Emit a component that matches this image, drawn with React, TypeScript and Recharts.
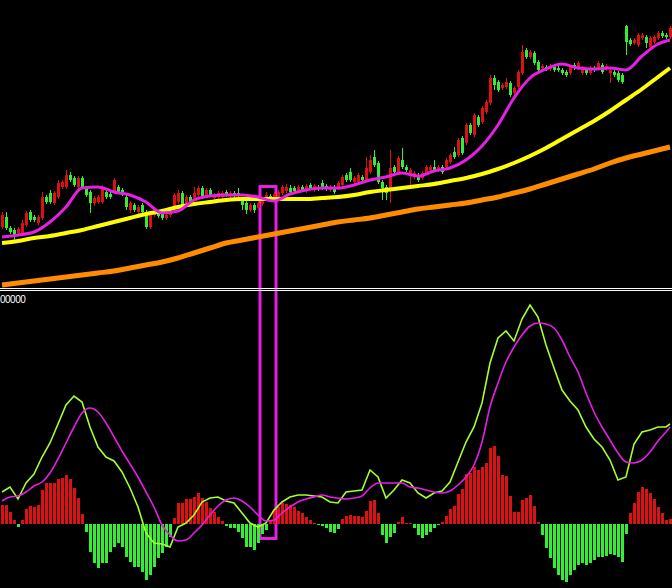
import React from 'react';
import { ComposedChart, Bar, Line, XAxis, YAxis, ReferenceLine, ReferenceArea } from 'recharts';

const W = 672;
const H = 588;

// candles, oldest first (168 bars)
const open = [
  61, 71, 60, 58, 55, 55, 63, 76, 71, 65,
  70, 91, 95, 85, 91, 101, 101, 113, 110, 101,
  110, 100, 96, 85, 86, 86, 96, 94, 96, 101,
  98, 91, 78, 83, 76, 83, 76, 61, 73, 75,
  75, 70, 73, 81, 86, 95, 85, 91, 90, 93,
  100, 93, 98, 90, 91, 91, 96, 92, 95, 95,
  88, 85, 78, 83, 80, 84, 88, 92, 90, 91,
  95, 97, 100, 100, 97, 101, 97, 103, 98, 101,
  105, 102, 98, 100, 100, 103, 113, 116, 106, 106,
  111, 108, 116, 131, 125, 106, 101, 100, 121, 116,
  128, 121, 113, 111, 113, 110, 115, 118, 121, 118,
  121, 121, 126, 136, 133, 150, 145, 163, 153, 171,
  166, 176, 185, 210, 206, 200, 201, 205, 195, 201,
  215, 238, 231, 235, 226, 220, 221, 219, 221, 220,
  218, 216, 215, 223, 220, 215, 218, 215, 220, 220,
  223, 219, 215, 216, 215, 213, 262, 248, 245, 243,
  250, 251, 241, 246, 250, 255, 253, 251,
];
const high = [
  76, 76, 62, 60, 61, 68, 77, 78, 73, 73,
  96, 93, 98, 97, 108, 108, 118, 116, 112, 112,
  112, 102, 98, 92, 93, 103, 100, 96, 110, 103,
  100, 93, 87, 85, 83, 85, 78, 77, 77, 77,
  77, 75, 79, 95, 98, 97, 93, 93, 101, 102,
  102, 100, 100, 95, 97, 97, 98, 97, 97, 100,
  90, 87, 85, 85, 87, 90, 96, 94, 96, 98,
  103, 104, 103, 102, 103, 103, 104, 105, 104, 103,
  108, 104, 103, 103, 107, 113, 115, 120, 112, 115,
  113, 131, 133, 138, 127, 108, 103, 138, 123, 132,
  140, 123, 120, 117, 115, 117, 123, 123, 128, 123,
  123, 130, 135, 141, 150, 152, 165, 165, 175, 173,
  182, 188, 213, 213, 208, 205, 210, 207, 202, 218,
  243, 240, 238, 237, 228, 224, 223, 224, 223, 222,
  220, 218, 223, 225, 227, 222, 220, 222, 222, 227,
  225, 224, 220, 218, 217, 215, 263, 250, 250, 255,
  255, 253, 252, 253, 257, 257, 255, 262,
];
const low = [
  59, 58, 54, 48, 52, 53, 61, 66, 66, 63,
  68, 84, 84, 83, 89, 99, 99, 106, 101, 99,
  99, 91, 75, 82, 84, 84, 89, 89, 94, 94,
  92, 78, 75, 76, 74, 74, 59, 59, 71, 70,
  68, 68, 71, 79, 84, 81, 83, 84, 88, 91,
  89, 91, 91, 88, 89, 89, 91, 90, 90, 90,
  78, 74, 76, 75, 78, 82, 86, 87, 88, 89,
  93, 95, 94, 95, 95, 96, 95, 98, 96, 97,
  98, 97, 96, 94, 98, 101, 106, 106, 104, 104,
  106, 106, 114, 121, 104, 88, 88, 85, 114, 114,
  119, 116, 103, 109, 106, 108, 113, 116, 116, 116,
  114, 119, 124, 129, 131, 133, 143, 153, 151, 161,
  164, 174, 183, 198, 196, 198, 199, 191, 193, 199,
  213, 229, 229, 223, 216, 218, 217, 217, 216, 216,
  213, 211, 213, 218, 218, 213, 213, 213, 216, 218,
  214, 217, 205, 211, 206, 204, 233, 242, 243, 241,
  248, 240, 239, 244, 248, 250, 249, 249,
];
const close = [
  73, 60, 56, 53, 59, 65, 75, 68, 68, 71,
  91, 86, 86, 95, 105, 106, 113, 108, 103, 110,
  101, 93, 85, 90, 91, 100, 91, 91, 108, 96,
  95, 81, 85, 78, 81, 76, 61, 75, 75, 72,
  70, 73, 77, 93, 95, 83, 91, 86, 95, 100,
  91, 98, 93, 93, 95, 95, 93, 95, 92, 92,
  83, 78, 83, 78, 85, 88, 93, 89, 94, 96,
  101, 101, 96, 97, 101, 98, 102, 100, 102, 99,
  100, 99, 101, 96, 105, 111, 108, 108, 110, 113,
  108, 120, 128, 123, 106, 100, 95, 120, 116, 130,
  121, 118, 118, 115, 108, 115, 121, 121, 118, 121,
  116, 128, 133, 131, 148, 135, 163, 155, 173, 163,
  180, 186, 210, 203, 198, 203, 206, 193, 200, 216,
  236, 231, 236, 225, 218, 222, 219, 222, 218, 218,
  215, 213, 221, 220, 225, 220, 215, 220, 218, 225,
  216, 222, 218, 213, 208, 206, 246, 244, 248, 253,
  253, 245, 250, 251, 255, 252, 251, 260,
];

// moving averages, read every 4th bar (the last one is bar 167)
const maFast = [
  51, 53, 56, 66, 81, 100, 101, 96, 93, 86, 75, 77, 88, 92, 93, 93, 91, 87, 94, 98, 100, 100,
  103, 108, 111, 115, 112, 117, 120, 128, 142, 163, 190, 210, 219, 224, 220, 219, 220, 218, 232, 244, 248,
];
const maMid = [
  45, 47, 50, 52, 55, 58, 62, 66, 70, 74, 77, 81, 84, 86, 88, 89, 89, 89, 89, 89, 90, 91,
  93, 96, 98, 100, 102, 104, 107, 110, 114, 119, 125, 132, 140, 149, 158, 167, 177, 188, 199, 211, 220,
];
const maSlow = [
  3, 5, 7, 9, 11, 13, 15, 17, 20, 23, 26, 30, 35, 40, 45, 48, 51, 54, 57, 60, 63, 66,
  68, 70, 73, 76, 79, 81, 83, 85, 88, 91, 95, 99, 104, 109, 114, 119, 125, 130, 134, 138, 141,
];

// MACD histogram, one value per bar
const macdHist = [
  19, 19, 12, 4, -3, 4, 15, 18, 17, 19, 34, 41, 41, 41, 45, 46, 49, 45, 36, 26,
  10, -8, -28, -39, -44, -39, -39, -28, -23, -19, -23, -33, -38, -43, -43, -48, -56, -51, -43, -34,
  -29, -23, -13, 6, 21, 21, 25, 25, 27, 31, 26, 22, 16, 12, 7, 3,
  -2, -4, -4, -8, -14, -23, -23, -26, -19, -10, -6, 3, 14, 17, 21, 20, 19, 17, 13, 11,
  7, 4, 1, -1, -2, -4, -8, -9, -5, 5, 8, 9, 8, 8, 7, 13, 23, 24, 11, -11,
  -19, -13, -9, 2, 7, 1, 1, -4, -11, -14, -11, -8, -4, -1, 2, 8,
  15, 18, 30, 35, 50, 51, 57, 54, 57, 61, 76, 78, 68, 49, 48, 28, 12, 12, 24, 26,
  29, 18, 2, -11, -24, -34, -44, -51, -56, -58, -51, -46, -41, -39, -41, -39, -36, -33, -33, -32,
  -30, -31, -33, -38, -10, 11, 21, 32, 37, 35, 31, 25, 17, 11, 4, 5,
];

// MACD main and signal lines, read every 2nd bar (the last one is bar 167)
const macdMain = [
  32, 37, 25, 41, 50, 67, 81, 100, 119, 128, 122, 97, 77, 67, 63, 52, 36, 17, -9, -19, -20, -23, -3, 1, 9, 22, 26, 27,
  23, 21, 11, 1, -3, 1, 14, 22, 27, 29, 29, 28, 27, 22, 21, 32, 33, 34, 54, 47, 26, 34, 44, 41, 31, 26, 31, 33,
  42, 62, 82, 97, 121, 161, 186, 193, 183, 205, 219, 207, 179, 156, 134, 123, 114, 97, 85, 77, 64, 44, 47, 80, 92, 94, 97, 97,
  100,
];
const macdSignal = [
  23, 27, 28, 32, 38, 42, 51, 65, 81, 97, 111, 116, 112, 101, 87, 73, 60, 47, 32, 17, -1, -11, -17, -16, -9, -1, 9, 18,
  24, 26, 23, 17, 9, 3, 4, 11, 17, 22, 25, 27, 29, 27, 26, 25, 26, 28, 36, 41, 41, 41, 41, 37, 36, 34, 32, 31,
  33, 39, 47, 59, 82, 117, 141, 162, 177, 189, 198, 201, 200, 196, 184, 167, 152, 131, 112, 97, 84, 71, 62, 61, 64, 72, 83, 92,
  97,
];

const maBars = maFast.map((_, k) => Math.min(k * 4, 167));
const lineBars = macdMain.map((_, k) => Math.min(k * 2, 167));

const data: any[] = open.map((o, i) => ({
  i,
  o,
  h: high[i],
  l: low[i],
  c: close[i],
  range: [low[i], high[i]],
  hist: macdHist[i],
  fast: null,
  mid: null,
  slow: null,
  main: null,
  sig: null,
}));
maBars.forEach((b, k) => {
  data[b].fast = maFast[k];
  data[b].mid = maMid[k];
  data[b].slow = maSlow[k];
});
lineBars.forEach((b, k) => {
  data[b].main = macdMain[k];
  data[b].sig = macdSignal[k];
});

const UP = '#dd1111';
const DOWN = '#33ee33';
const PINK = '#e61ee6';

const Candle = (props: any) => {
  const { x, y, height, payload } = props;
  if (payload == null || x == null) return null;
  const top = Math.min(y, y + height);
  const bot = Math.max(y, y + height);
  const span = payload.h - payload.l || 1;
  const py = (v: number) => top + ((payload.h - v) / span) * (bot - top);
  const color = payload.c >= payload.o ? UP : DOWN;
  const b1 = Math.round(py(Math.max(payload.o, payload.c)));
  const b2 = Math.round(py(Math.min(payload.o, payload.c)));
  const left = Math.floor(x);
  return (
    <g>
      <line x1={left + 2.5} x2={left + 2.5} y1={Math.round(top)} y2={Math.round(bot)} stroke={color} strokeWidth={1} />
      <rect x={left + 1} y={b1} width={3} height={Math.max(1, b2 - b1)} fill={color} />
    </g>
  );
};

const HistBar = (props: any) => {
  const { x, y, height, payload } = props;
  if (payload == null || x == null) return null;
  const top = Math.round(Math.min(y, y + height));
  const h = Math.round(Math.abs(height));
  return <rect x={Math.floor(x) + 1} y={top} width={3} height={Math.max(1, h)} fill={payload.hist >= 0 ? UP : DOWN} />;
};

export default function App() {
  return (
    <div style={{ position: 'absolute', left: 0, top: 0, width: W, height: H, background: '#000', overflow: 'hidden' }}>
      <ComposedChart width={W} height={H} data={data} margin={{ top: 0, right: 0, bottom: 0, left: 0 }} barGap={0} barCategoryGap={0}>
        <XAxis xAxisId="a" dataKey="i" hide />
        <XAxis xAxisId="b" dataKey="i" hide />
        <YAxis yAxisId="p" domain={[-300, 288]} allowDataOverflow hide />
        <YAxis yAxisId="m" domain={[-64, 524]} allowDataOverflow hide />

        <Bar xAxisId="a" yAxisId="p" dataKey="range" barSize={4} shape={<Candle />} isAnimationActive={false} />
        <Line xAxisId="a" yAxisId="p" dataKey="slow" type="monotone" stroke="#ff8c00" strokeWidth={5} dot={false} activeDot={false} connectNulls isAnimationActive={false} />
        <Line xAxisId="a" yAxisId="p" dataKey="mid" type="monotone" stroke="#ffff00" strokeWidth={4} dot={false} activeDot={false} connectNulls isAnimationActive={false} />
        <Line xAxisId="a" yAxisId="p" dataKey="fast" type="monotone" stroke={PINK} strokeWidth={3} dot={false} activeDot={false} connectNulls isAnimationActive={false} />

        <ReferenceLine xAxisId="a" yAxisId="p" y={-0.5} stroke="#ffffff" strokeWidth={1} />
        <ReferenceLine xAxisId="a" yAxisId="p" y={-2.5} stroke="#ffffff" strokeWidth={1} />

        <Bar xAxisId="b" yAxisId="m" dataKey="hist" barSize={4} shape={<HistBar />} isAnimationActive={false} />
        <Line xAxisId="b" yAxisId="m" dataKey="main" type="linear" stroke="#a6ff2e" strokeWidth={1.6} dot={false} activeDot={false} connectNulls isAnimationActive={false} />
        <Line xAxisId="b" yAxisId="m" dataKey="sig" type="monotone" stroke={PINK} strokeWidth={1.6} dot={false} activeDot={false} connectNulls isAnimationActive={false} />

        <ReferenceArea xAxisId="a" yAxisId="p" x1={65} x2={68} y1={-250.5} y2={101.5} fill="none" fillOpacity={0} stroke={PINK} strokeWidth={3} ifOverflow="visible" />
      </ComposedChart>
      <div style={{ position: 'absolute', left: 0, top: 295, color: '#fff', fontFamily: '"Liberation Sans", Arial, sans-serif', fontSize: 10, lineHeight: '10px', letterSpacing: -0.5 }}>
        00000
      </div>
    </div>
  );
}
